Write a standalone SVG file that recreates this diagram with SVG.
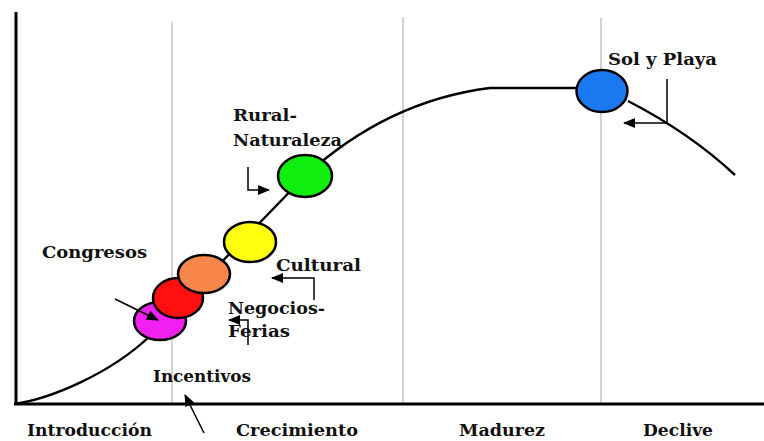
<svg xmlns="http://www.w3.org/2000/svg" width="764" height="441" viewBox="0 0 764 441">
<defs>
<marker id="ah" viewBox="0 0 12 10" refX="11" refY="5" markerWidth="12" markerHeight="10" markerUnits="userSpaceOnUse" orient="auto"><path d="M0,0 L12,5 L0,10 Z" fill="#000"/></marker>
</defs>
<style>
.lbl{font-family:"DejaVu Serif","Liberation Serif",serif;font-weight:bold;font-size:17.5px;fill:#111}
.grid{stroke:#c4c4c4;stroke-width:1.5}
.axis{stroke:#000;stroke-width:3;fill:none}
.curve{stroke:#000;stroke-width:2.4;fill:none}
.node ellipse{stroke:#000;stroke-width:2.5}
.arr{stroke:#000;stroke-width:1.5;fill:none;marker-end:url(#ah)}
</style>
<rect width="764" height="441" fill="#fff"/>
<g id="grid">
<line class="grid" x1="172" y1="22" x2="172" y2="404"/>
<line class="grid" x1="403" y1="17" x2="403" y2="404"/>
<line class="grid" x1="601" y1="18" x2="601" y2="404"/>
</g>
<g id="axes">
<line class="axis" x1="16" y1="12" x2="16" y2="405"/>
<line class="axis" x1="14" y1="404" x2="764" y2="404"/>
</g>
<g id="curve">
<path class="curve" d="M14,404 C50,399 110,374 150,336 L305,176 C350,135 410,98 490,88 L600,88"/>
<path class="curve" d="M628,101 Q690,133 735,175"/>
</g>
<g id="node-magenta" class="node"><ellipse cx="160" cy="321" rx="26" ry="19" fill="#f020f0"/></g>
<g id="node-red" class="node"><ellipse cx="178" cy="298" rx="25" ry="20" fill="#ff1010"/></g>
<g id="node-orange" class="node"><ellipse cx="204" cy="274" rx="26" ry="19" fill="#f8864a"/></g>
<g id="node-yellow" class="node"><ellipse cx="250" cy="242" rx="26" ry="20" fill="#ffff10"/></g>
<g id="node-green" class="node"><ellipse cx="305" cy="176" rx="27" ry="21" fill="#10ee10"/></g>
<g id="node-blue" class="node"><ellipse cx="602" cy="91" rx="25.5" ry="21" fill="#1a78f0"/></g>
<g id="connectors">
<path class="arr" d="M248,167 L248,190 L269,190"/>
<path class="arr" d="M667,79 L667,123 L624,123"/>
<path class="arr" d="M314,300 L314,278 L272,278"/>
<path class="arr" d="M248,345 L248,320 L229,320"/>
<path class="arr" d="M115,299 L158,320"/>
<path class="arr" d="M204,433 L185,395"/>
</g>
<g id="labels">
<text class="lbl" x="233" y="121" textLength="64" lengthAdjust="spacingAndGlyphs">Rural-</text>
<text class="lbl" x="233" y="146" textLength="109" lengthAdjust="spacingAndGlyphs">Naturaleza</text>
<text class="lbl" x="608" y="65" textLength="109" lengthAdjust="spacingAndGlyphs">Sol y Playa</text>
<text class="lbl" x="42" y="258" textLength="105" lengthAdjust="spacingAndGlyphs">Congresos</text>
<text class="lbl" x="276" y="271" textLength="85" lengthAdjust="spacingAndGlyphs">Cultural</text>
<text class="lbl" x="228" y="314" textLength="97" lengthAdjust="spacingAndGlyphs">Negocios-</text>
<text class="lbl" x="228" y="337" textLength="62" lengthAdjust="spacingAndGlyphs">Ferias</text>
<text class="lbl" x="153" y="382" textLength="98" lengthAdjust="spacingAndGlyphs">Incentivos</text>
<text class="lbl" x="27" y="436" textLength="125" lengthAdjust="spacingAndGlyphs">Introducción</text>
<text class="lbl" x="236" y="436" textLength="122" lengthAdjust="spacingAndGlyphs">Crecimiento</text>
<text class="lbl" x="459" y="436" textLength="86" lengthAdjust="spacingAndGlyphs">Madurez</text>
<text class="lbl" x="643" y="436" textLength="70" lengthAdjust="spacingAndGlyphs">Declive</text>
</g>
</svg>
